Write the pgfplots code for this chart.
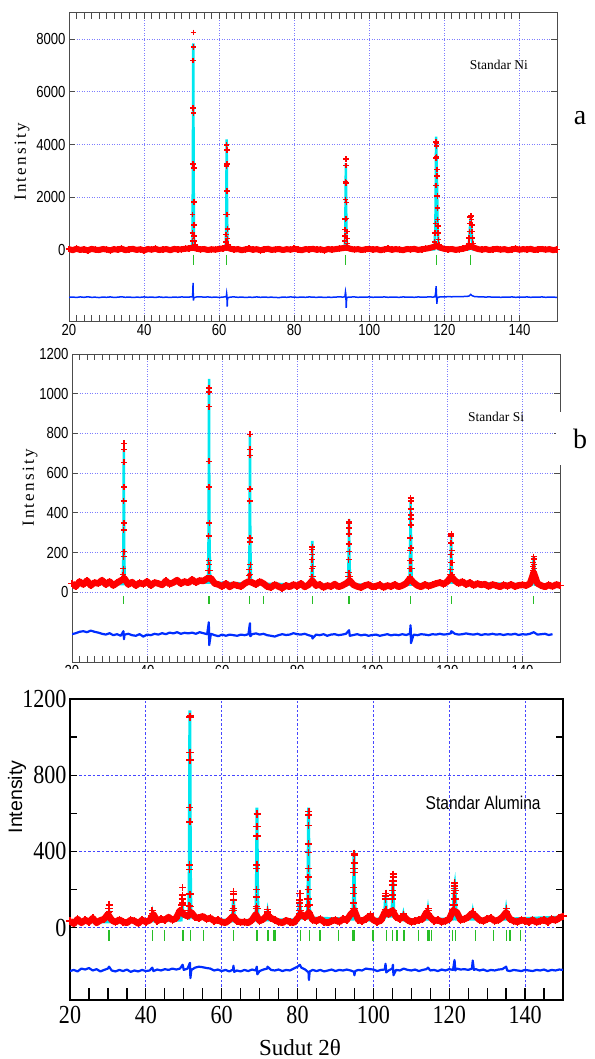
\documentclass[border=0pt]{standalone}
\usepackage{pgfplots}
\usepackage{pgfplotstable}
\pgfplotsset{compat=1.18}
\usepackage{fontspec}
\setmainfont{Liberation Serif}
\newfontfamily\nsans[FakeStretch=0.82]{Liberation Sans}
\newfontfamily\asans{Liberation Sans}
\newfontfamily\asansn[FakeStretch=0.84]{Liberation Sans}
\newfontfamily\tser[FakeStretch=0.85]{Liberation Serif}
\newfontfamily\sser[LetterSpace=13]{Liberation Serif}

\definecolor{obsred}{RGB}{255,0,0}
\definecolor{calccyan}{RGB}{0,232,240}
\definecolor{braggreen}{RGB}{40,190,40}
\definecolor{diffblue}{RGB}{0,45,255}
\definecolor{gridblue}{RGB}{125,125,255}
\definecolor{gridblueC}{RGB}{70,70,255}

% ---------------- Panel a (Ni) ----------------
\pgfplotstableread{
x y
20 30
21 -10
22 45
23 0
24 25
25 -20
26 40
27 10
28 -5
29 35
30 15
31 -15
32 30
33 5
34 50
35 -10
36 20
37 40
38 0
39 25
40 -20
41 35
42 10
43 45
44 -5
45 20
46 30
47 -10
48 40
49 15
50 25
51 45
52 60
53 90
54 50
55 20
56 35
57 -5
58 25
59 10
60 40
61 55
62 100
63 45
64 15
65 30
66 -10
67 20
68 45
69 5
70 30
71 -15
72 25
73 40
74 0
75 20
76 35
77 -5
78 30
79 10
80 45
81 15
82 -10
83 30
84 20
85 40
86 5
87 25
88 -15
89 35
90 10
91 30
92 50
93 70
94 90
95 40
96 15
97 30
98 -5
99 25
100 40
101 10
102 30
103 -10
104 20
105 45
106 5
107 30
108 15
109 -10
110 35
111 20
112 40
113 0
114 25
115 45
116 70
117 110
118 150
119 80
120 40
121 20
122 35
123 0
124 25
125 45
126 90
127 140
128 80
129 30
130 10
131 35
132 -5
133 25
134 40
135 10
136 30
137 -10
138 20
139 45
140 5
141 30
142 15
143 40
144 -5
145 25
146 35
147 10
148 30
149 -10
150 20
}\aBg

\pgfplotstableread{
x y
20 20
52.7 20
52.9 400
53.0 3000
53.1 7850
53.2 3000
53.3 400
53.5 20
61.6 20
61.8 300
61.9 1500
62.0 4200
62.1 1700
62.2 400
62.4 20
93.4 20
93.6 600
93.75 3300
93.9 600
94.1 20
117.3 20
117.6 800
117.8 4300
117.9 3600
118.05 2400
118.2 900
118.5 20
126.4 20
126.7 600
127.0 1250
127.3 600
127.6 20
150 20
}\aCalc

\pgfplotstableread{
x y
52.85 330
52.9 650
52.95 1350
53.0 3270
53.04 5400
53.08 7200
53.12 8260
53.16 7700
53.2 5200
53.24 3120
53.28 1830
53.32 940
53.36 520
53.42 330
53.5 180
61.8 300
61.85 590
61.9 1350
61.95 3180
62.0 3980
62.05 3790
62.1 3270
62.14 2230
62.18 1340
62.22 800
62.27 430
62.35 200
93.45 330
93.5 520
93.55 780
93.6 1180
93.65 1920
93.7 2600
93.75 3450
93.8 3200
93.85 2550
93.9 1800
93.95 1200
94.0 700
94.05 430
94.15 250
117.4 300
117.5 650
117.6 1000
117.7 2450
117.75 3500
117.8 4100
117.85 4070
117.9 3950
117.95 3550
118.0 3060
118.05 2800
118.1 2040
118.15 1600
118.2 1160
118.25 900
118.3 650
118.4 400
118.5 200
126.5 250
126.6 450
126.7 700
126.8 1000
126.9 1250
127.0 1300
127.1 1280
127.2 1150
127.3 950
127.4 700
127.5 450
127.6 250
}\aObs

\pgfplotstableread{
x y
53.1 -380
62.05 -380
93.75 -380
117.85 -380
127.0 -380
}\aBragg

\pgfplotstableread{
x y
20 -1800
21 -1790
22 -1805
23 -1785
24 -1800
25 -1780
26 -1800
27 -1795
28 -1810
29 -1790
30 -1800
31 -1785
32 -1805
33 -1795
34 -1780
35 -1800
36 -1790
37 -1805
38 -1795
39 -1800
40 -1785
41 -1800
42 -1790
43 -1805
44 -1785
45 -1800
46 -1795
47 -1805
48 -1790
49 -1800
50 -1785
51 -1795
52 -1790
52.9 -1780
53.0 -1550
53.05 -1250
53.1 -1650
53.15 -1920
53.25 -1820
54 -1785
55 -1780
56 -1795
57 -1785
58 -1800
59 -1790
60 -1805
61 -1790
61.9 -1780
62.0 -1660
62.05 -1720
62.15 -2150
62.25 -1820
63 -1790
64 -1785
65 -1800
66 -1790
67 -1805
68 -1795
69 -1800
70 -1785
71 -1800
72 -1790
73 -1800
74 -1795
75 -1805
76 -1810
77 -1790
78 -1800
79 -1785
80 -1795
81 -1800
82 -1790
83 -1800
84 -1785
85 -1795
86 -1800
87 -1790
88 -1805
89 -1795
90 -1800
91 -1790
92 -1785
93 -1790
93.5 -1780
93.65 -1600
93.75 -1700
93.85 -2200
93.95 -1850
94.1 -1800
95 -1790
96 -1785
97 -1800
98 -1790
99 -1795
100 -1785
101 -1800
102 -1790
103 -1795
104 -1785
105 -1800
106 -1790
107 -1795
108 -1800
109 -1785
110 -1795
111 -1790
112 -1800
113 -1785
114 -1795
115 -1790
116 -1785
117 -1790
117.5 -1780
117.7 -1600
117.8 -1380
117.9 -1700
118.0 -2050
118.1 -1850
118.3 -1800
119 -1780
120 -1785
121 -1775
122 -1780
123 -1770
124 -1775
125 -1770
126 -1765
126.6 -1750
127.0 -1690
127.4 -1740
128 -1770
129 -1780
130 -1785
131 -1790
132 -1785
133 -1795
134 -1790
135 -1800
136 -1790
137 -1795
138 -1785
139 -1800
140 -1790
141 -1795
142 -1785
143 -1800
144 -1790
145 -1795
146 -1785
147 -1800
148 -1790
149 -1795
150 -1800
}\aDiff

% ---------------- Panel b (Si) ----------------
\pgfplotstableread{
x y
20 45
21 30
22 55
23 40
24 60
25 35
26 50
27 45
28 62
29 40
30 55
31 35
32 48
33 60
34 70
35 40
36 52
37 35
38 48
39 42
40 55
41 35
42 50
43 45
44 38
45 58
46 42
47 50
48 62
49 45
50 55
51 48
52 65
53 50
54 60
55 58
56 70
57 72
58 45
59 40
60 30
61 45
62 28
63 40
64 35
65 30
66 45
67 55
68 50
69 40
70 55
71 45
72 30
73 25
74 40
75 30
76 22
77 35
78 28
79 40
80 32
81 45
82 28
83 38
84 60
85 35
86 40
87 25
88 35
89 30
90 42
91 28
92 35
93 45
94 60
95 38
96 30
97 25
98 35
99 40
100 28
101 32
102 38
103 25
104 35
105 30
106 40
107 28
108 35
109 45
110 70
111 50
112 35
113 28
114 40
115 32
116 38
117 45
118 50
119 42
120 55
121 80
122 60
123 45
124 55
125 40
126 50
127 35
128 45
129 38
130 42
131 30
132 40
133 35
134 28
135 38
136 32
137 40
138 30
139 36
140 38
141 35
142 45
143 100
144 45
145 35
146 28
147 38
148 30
149 40
150 35
}\bBg

\pgfplotstableread{
x y
20 42
33.5 42
33.7 200
33.8 720
33.9 200
34.1 42
56.2 50
56.4 300
56.5 1075
56.6 300
56.8 50
67.1 45
67.3 250
67.4 790
67.5 250
67.7 45
83.7 40
83.9 120
84.0 260
84.1 120
84.3 40
93.5 40
93.7 180
93.8 370
93.9 180
94.1 40
109.9 40
110.1 250
110.2 460
110.3 300
110.5 40
120.7 50
120.9 160
121.0 295
121.1 170
121.3 50
142.6 40
142.9 150
143.0 180
143.2 120
143.4 40
150 40
}\bCalc

\pgfplotstableread{
x y
33.65 90
33.7 120
33.72 180
33.75 315
33.77 460
33.8 655
33.82 750
33.84 720
33.86 530
33.88 350
33.9 205
33.95 80
56.3 75
56.35 110
56.38 160
56.42 285
56.45 530
56.48 660
56.5 935
56.52 1030
56.55 1010
56.58 350
56.6 140
56.65 110
67.2 85
67.25 115
67.3 255
67.33 460
67.36 520
67.4 690
67.42 720
67.45 795
67.48 275
67.5 140
67.55 90
83.85 80
83.9 120
83.95 165
84.0 215
84.02 230
84.05 190
84.08 130
84.12 80
93.6 80
93.65 100
93.7 165
93.75 245
93.78 295
93.8 355
93.83 325
93.85 350
93.88 205
93.92 100
94.0 80
110.0 80
110.05 120
110.1 160
110.13 210
110.16 275
110.18 370
110.2 420
110.22 475
110.25 460
110.28 390
110.3 340
110.33 225
110.38 160
110.45 120
120.8 90
120.85 115
120.9 150
120.95 190
121.0 250
121.05 295
121.08 285
121.12 210
121.18 150
121.25 90
142.7 95
142.8 110
142.85 130
142.9 150
142.95 170
143.0 180
143.05 165
143.1 140
143.15 120
143.2 100
}\bObs

\pgfplotstableread{
x y
33.8 -38
56.5 -38
67.4 -38
70.9 -38
84.0 -38
93.8 -38
110.2 -38
121.0 -38
143.0 -38
}\bBragg

\pgfplotstableread{
x y
20 -210
21 -205
22 -198
23 -195
24 -200
25 -192
26 -198
27 -202
28 -208
29 -212
30 -205
31 -215
32 -210
33 -218
33.7 -195
33.85 -235
34 -212
35 -208
36 -215
37 -218
38 -210
39 -222
40 -212
41 -215
42 -208
43 -212
44 -205
45 -210
46 -202
47 -206
48 -200
49 -208
50 -203
51 -206
52 -202
53 -208
54 -200
55 -205
56 -210
56.45 -150
56.55 -265
57 -208
58 -215
59 -220
60 -212
61 -218
62 -212
63 -215
64 -218
65 -212
66 -215
67 -210
67.4 -155
67.5 -220
68 -210
69 -206
70 -212
71 -208
72 -215
73 -218
74 -222
75 -215
76 -210
77 -214
78 -212
79 -205
80 -210
81 -212
82 -208
83 -215
84 -220
84.05 -232
85 -212
86 -215
87 -210
88 -218
89 -212
90 -210
91 -215
92 -212
93 -208
93.8 -190
94 -218
95 -214
96 -210
97 -216
98 -212
99 -218
100 -214
101 -212
102 -218
103 -214
104 -210
105 -216
106 -212
107 -215
108 -210
109 -214
110 -208
110.2 -165
110.3 -255
111 -212
112 -215
113 -210
114 -212
115 -215
116 -210
117 -212
118 -208
119 -212
120 -210
121 -205
121.05 -195
122 -208
123 -212
124 -210
125 -206
126 -210
127 -212
128 -208
129 -214
130 -210
131 -212
132 -208
133 -212
134 -210
135 -214
136 -210
137 -212
138 -208
139 -214
140 -210
141 -212
142 -208
143 -200
144 -212
145 -210
146 -208
147 -214
148 -210
}\bDiff

% ---------------- Panel c (Alumina) ----------------
\pgfplotstableread{
x y
20 35
21 20
22 45
23 25
24 40
25 30
26 50
27 25
28 38
29 45
30 70
31 40
32 28
33 42
34 30
35 25
36 40
37 35
38 22
39 40
40 30
41 38
42 70
43 35
44 45
45 40
46 55
47 40
48 50
49 90
50 70
51 60
52 80
53 55
54 50
55 60
56 45
57 50
58 35
59 40
60 30
61 25
62 40
63 60
64 35
65 28
66 30
67 25
68 40
69 70
70 35
71 45
72 65
73 50
74 40
75 30
76 25
77 38
78 30
79 25
80 50
81 70
82 55
83 80
84 40
85 35
86 45
87 30
88 25
89 35
90 40
91 30
92 45
93 40
94 70
95 90
96 40
97 35
98 45
99 60
100 40
101 30
102 38
103 80
104 70
105 90
106 55
107 45
108 60
109 40
110 30
111 35
112 40
113 45
114 80
115 55
116 35
117 40
118 30
119 35
120 45
121 90
122 80
123 40
124 45
125 55
126 75
127 60
128 40
129 35
130 45
131 50
132 35
133 40
134 55
135 80
136 45
137 35
138 30
139 40
140 35
141 30
142 40
143 28
144 35
145 40
146 30
147 45
148 38
149 50
150 60
}\cBg

\pgfplotstableread{
x y
20 30
29.9 30
30.3 80
30.7 30
41.4 35
41.7 70
42.0 35
49.3 40
49.6 120
49.9 60
51.3 50
51.45 300
51.6 1140
51.75 300
51.9 55
62.8 35
63.1 150
63.4 35
69.0 40
69.15 200
69.3 630
69.45 200
69.6 40
71.8 40
72.1 80
72.4 40
80.3 40
80.6 140
80.9 50
82.6 50
82.75 200
82.9 630
83.05 200
83.2 50
94.5 45
94.75 150
94.9 400
95.05 150
95.3 45
98.9 40
99.2 60
99.5 40
102.9 50
103.2 160
103.5 60
104.9 60
105.15 250
105.4 60
107.6 45
107.9 70
108.2 40
114.1 45
114.4 90
114.7 45
121.0 45
121.3 200
121.45 220
121.6 180
121.9 45
125.9 45
126.2 80
126.5 45
134.7 45
135.0 90
135.3 45
150 55
}\cCalc

\pgfplotstableread{
x y
30.2 60
30.25 80
30.3 100
30.35 120
30.4 85
41.6 60
41.7 90
41.8 75
49.5 90
49.55 120
49.6 150
49.65 170
49.7 210
49.75 130
51.4 90
51.45 115
51.5 175
51.52 305
51.55 330
51.57 555
51.6 630
51.62 880
51.64 920
51.66 1105
51.68 1110
51.72 175
51.75 110
62.95 60
63.0 90
63.05 100
63.1 145
63.12 175
63.15 190
63.2 100
69.1 100
69.15 110
69.2 160
69.22 200
69.25 310
69.28 330
69.3 480
69.32 530
69.35 600
69.38 595
69.45 100
72.0 70
72.05 85
72.1 95
72.15 80
80.45 70
80.5 90
80.55 110
80.6 145
80.62 130
80.65 180
80.7 90
82.7 110
82.75 150
82.8 200
82.82 265
82.85 310
82.88 395
82.9 440
82.92 535
82.95 610
82.97 590
83.0 120
94.7 80
94.75 100
94.8 130
94.82 180
94.85 210
94.88 290
94.9 310
94.92 340
94.95 390
94.98 380
95.0 100
99.1 60
99.2 70
103.1 85
103.15 95
103.2 150
103.22 165
103.25 180
103.3 95
105.0 90
105.05 150
105.1 170
105.12 195
105.15 225
105.18 245
105.2 265
105.22 280
105.3 90
107.85 60
107.9 70
114.3 65
114.35 75
114.4 90
114.45 100
114.5 70
121.2 90
121.25 120
121.3 150
121.32 180
121.35 195
121.38 205
121.4 220
121.42 235
121.45 215
121.5 195
121.55 150
126.1 75
126.2 85
126.3 70
134.9 70
135.0 85
135.05 100
135.1 75
}\cObs

\pgfplotstableread{
x y
30.3 -42
41.8 -42
45.0 -42
49.8 -42
51.7 -42
55.3 -42
63.1 -42
69.3 -42
72.2 -42
73.8 -42
74.1 -42
80.7 -42
83.1 -42
85.9 -42
90.9 -42
94.6 -42
95.0 -42
99.7 -42
99.9 -42
103.5 -42
105.0 -42
106.2 -42
108.0 -42
108.2 -42
111.9 -42
114.4 -42
114.8 -42
115.3 -42
120.9 -42
121.7 -42
127.0 -42
131.7 -42
135.2 -42
136.0 -42
138.7 -42
}\cBragg

\pgfplotstableread{
x y
20 -228
21 -222
22 -230
23 -215
24 -220
25 -212
26 -225
27 -218
28 -230
29 -222
30 -215
30.3 -205
31 -225
32 -230
33 -222
34 -228
35 -220
36 -232
37 -225
38 -230
39 -222
40 -228
41 -225
41.7 -210
42 -228
43 -220
44 -225
45 -218
46 -222
47 -215
48 -220
49 -215
49.7 -195
50 -222
51 -215
51.5 -190
51.65 -185
51.75 -265
52 -222
53 -210
54 -205
55 -208
56 -212
57 -215
58 -225
59 -220
60 -228
61 -222
62 -230
63 -220
63.1 -200
63.3 -232
64 -225
65 -230
66 -222
67 -228
68 -220
69 -225
69.25 -205
69.4 -245
70 -228
71 -220
72 -215
72.1 -205
73 -222
74 -225
75 -220
76 -228
77 -222
78 -225
79 -215
80 -205
80.6 -195
81 -210
82 -220
82.9 -235
83.0 -275
83.2 -230
84 -222
85 -228
86 -222
87 -230
88 -225
89 -220
90 -228
91 -222
92 -225
93 -220
94 -225
94.9 -232
95.0 -250
95.2 -228
96 -222
97 -225
98 -215
99 -218
100 -220
101 -228
102 -222
103 -220
103.2 -190
103.4 -235
104 -225
105 -215
105.15 -195
105.3 -250
106 -222
107 -225
108 -215
109 -222
110 -225
111 -220
112 -228
113 -222
114 -218
114.4 -210
115 -225
116 -222
117 -228
118 -220
119 -225
120 -218
121 -222
121.4 -170
121.6 -225
122 -215
123 -220
124 -218
125 -222
126 -215
126.2 -173
126.5 -222
127 -218
128 -225
129 -220
130 -228
131 -222
132 -225
133 -220
134 -218
135 -205
135.3 -225
136 -228
137 -222
138 -225
139 -228
140 -222
141 -225
142 -228
143 -222
144 -225
145 -220
146 -228
147 -222
148 -225
149 -220
150 -222
}\cDiff

\pgfplotsset{
  paneab/.style={
    scale only axis, width=488bp, height=308bp,
    xmin=20, xmax=150,
    xtick={20,40,...,140}, minor x tick num=9,
    major tick length=6bp, minor tick length=6bp,
    axis line style={draw=black!70, line width=1bp},
    every tick/.style={draw=black!70, line width=1bp},
    xmajorgrids, ymajorgrids,
    major grid style={gridblue, line width=1bp, dash pattern=on 1bp off 1.5bp},
    ticklabel style={font=\nsans\fontsize{16bp}{16bp}\selectfont},
    /pgf/number format/assume math mode=true,
    /pgf/number format/1000 sep={},
    scaled ticks=false,
  },
  redband/.style={obsred, line width=5bp, line join=round, mark=+, mark size=3bp, mark options={line width=1.5bp, solid, draw=obsred}},
  redpts/.style={obsred, only marks, mark=+, mark size=2.8bp, mark options={line width=1.5bp, draw=obsred}},
}

\begin{document}
\begin{tikzpicture}
\useasboundingbox (0,0) rectangle (595bp,-1059bp);

% ---------- a ----------
\begin{axis}[paneab, at={(69bp,-321bp)}, anchor=south west,
  ymin=-2700, ymax=9000, ytick={0,2000,4000,6000,8000}]
\addplot[calccyan, line width=2.5bp] table {\aCalc};
\addplot[redband, line width=6bp, mark size=3.3bp] table {\aBg};
\addplot[redpts] table {\aObs};
\addplot[braggreen, only marks, mark=|, mark size=5.3bp, mark options={line width=1.1bp}] table {\aBragg};
\addplot[diffblue, line width=1.5bp] table {\aDiff};
\node[font=\fontsize{13.5bp}{15bp}\selectfont] at (rel axis cs:0.881,0.831) {Standar Ni};
\end{axis}

% ---------- b ----------
\begin{axis}[paneab, at={(72bp,-662bp)}, anchor=south west,
  ymin=-350, ymax=1200, ytick={0,200,...,1200}]
\addplot[calccyan, line width=2.5bp] table {\bCalc};
\addplot[redband, line width=6.5bp, mark size=3.5bp] table {\bBg};
\addplot[redpts, mark size=3bp] table {\bObs};
\addplot[braggreen, only marks, mark=|, mark size=4.2bp, mark options={line width=1.1bp}] table {\bBragg};
\addplot[diffblue, line width=2.2bp, line join=round] table {\bDiff};
\node[font=\fontsize{13.5bp}{15bp}\selectfont] at (rel axis cs:0.869,0.795) {Standar Si};
\end{axis}

\fill[white] (0,-669bp) rectangle (595bp,-697bp);
\fill[white] (556bp,-412bp) rectangle (566bp,-465bp);

% ---------- c ----------
\begin{axis}[at={(70bp,-1000bp)}, anchor=south west,
  scale only axis, width=493bp, height=301bp,
  xmin=20, xmax=150, ymin=-380, ymax=1200,
  axis line style={draw=black, line width=1.5bp},
  every tick/.style={draw=black, line width=1.3bp},
  major tick length=12bp, minor tick length=7bp,
  xtick={20,25,...,150},
  xticklabels={20,,,,40,,,,60,,,,80,,,,100,,,,120,,,,140,,},
  xtick pos=left,
  extra x ticks={40,60,...,140}, extra x tick labels={},
  extra x tick style={grid=major},
  ytick={0,400,800,1200}, minor ytick={0,200,...,1200},
  major y tick style={draw=none},
  ymajorgrids,
  major grid style={gridblueC, line width=0.7bp, dash pattern=on 2.5bp off 2bp},
  ticklabel style={font=\tser\fontsize{26bp}{26bp}\selectfont},
  xticklabel style={yshift=-3bp},
  /pgf/number format/assume math mode=true,
  /pgf/number format/1000 sep={},
  scaled ticks=false,
  xlabel={Sudut 2θ},
  xlabel style={font=\fontsize{23bp}{25bp}\selectfont, at={(axis description cs:0.4665,-0.159)}, anchor=center},
]
\addplot[calccyan, line width=3bp] table {\cCalc};
\addplot[redband, line width=6.5bp, mark size=3.6bp] table {\cBg};
\addplot[redpts, mark size=3.6bp, mark options={line width=1.6bp, draw=obsred}] table {\cObs};
\addplot[braggreen, only marks, mark=|, mark size=5.8bp, mark options={line width=1.2bp}] table {\cBragg};
\addplot[diffblue, line width=2.2bp, line join=round] table {\cDiff};
\node[font=\asansn\fontsize{18.5bp}{20bp}\selectfont] at (rel axis cs:0.838,0.654) {Standar Alumina};
\end{axis}

% axis titles and panel letters
\node[rotate=90, font=\sser\fontsize{17bp}{19bp}\selectfont] at (22bp,-162bp) {Intensity};
\node[rotate=90, font=\sser\fontsize{17bp}{19bp}\selectfont] at (30bp,-488bp) {Intensity};
\node[rotate=90, font=\asans\fontsize{19.5bp}{21bp}\selectfont] at (17bp,-797bp) {Intensity};
\node[font=\fontsize{28bp}{30bp}\selectfont] at (580bp,-118bp) {a};
\node[font=\fontsize{28bp}{30bp}\selectfont] at (580bp,-439bp) {b};
\end{tikzpicture}
\end{document}
